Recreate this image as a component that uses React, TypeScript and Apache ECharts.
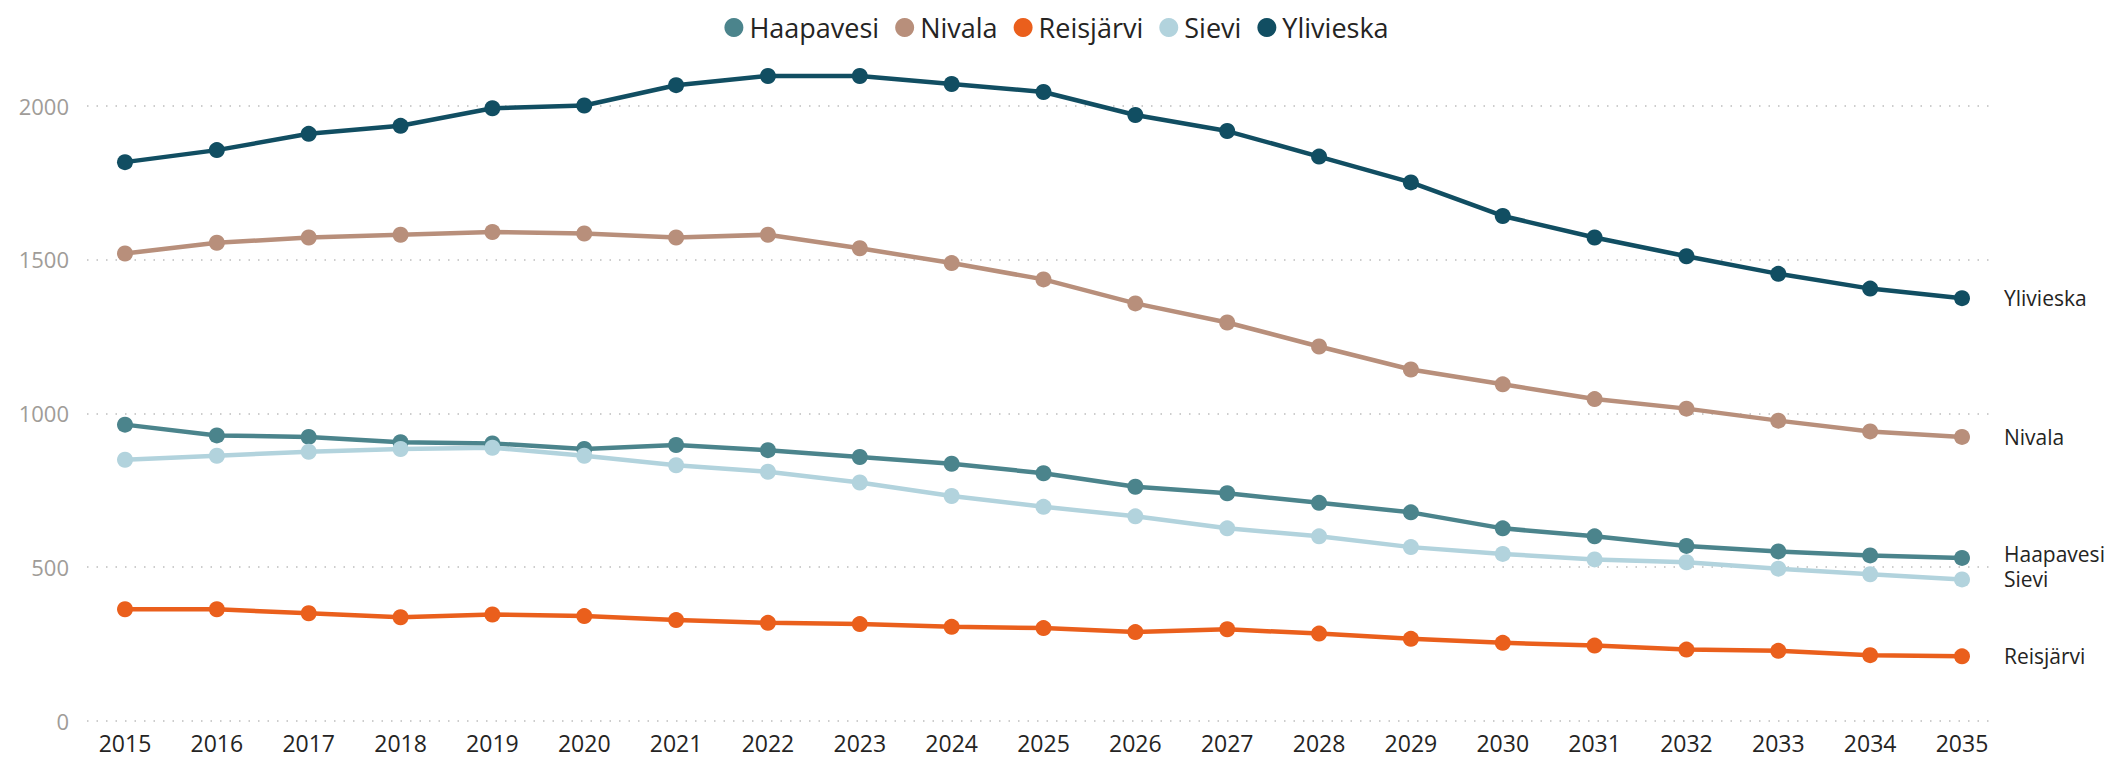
import React, { useEffect, useRef } from "react";
import * as echarts from "echarts";

const years = ["2015","2016","2017","2018","2019","2020","2021","2022","2023","2024","2025","2026","2027","2028","2029","2030","2031","2032","2033","2034","2035"];

const haapavesi = [963, 928, 923, 906, 902, 884, 897, 880, 858, 836, 805, 761, 740, 709, 678, 626, 600, 569, 551, 538, 530];
const nivala = [1519, 1554, 1571, 1580, 1589, 1584, 1571, 1580, 1536, 1488, 1435, 1357, 1295, 1217, 1142, 1094, 1046, 1015, 976, 941, 923];
const reisjarvi = [363, 363, 350, 337, 346, 341, 328, 319, 315, 306, 302, 289, 298, 284, 267, 254, 245, 232, 228, 214, 210];
const sievi = [849, 862, 875, 884, 888, 862, 831, 810, 775, 731, 696, 665, 626, 600, 565, 543, 525, 516, 495, 477, 460];
const ylivieska = [1816, 1855, 1908, 1934, 1991, 2000, 2066, 2096, 2096, 2070, 2044, 1969, 1917, 1834, 1750, 1641, 1571, 1510, 1453, 1405, 1374];

const seriesNames = ["Haapavesi", "Nivala", "Reisjärvi", "Sievi", "Ylivieska"];
const seriesValues = [haapavesi, nivala, reisjarvi, sievi, ylivieska];
const seriesColors = ["#4B848C", "#B88F7B", "#EA5F1C", "#B2D3DD", "#114E62"];
const labelOffsets = [[0, -4], [0, 0], [0, 0], [0, 0], [0, 0]];

const yTicks = { min: 0, max: 2000, interval: 500 };

const FONT = "'Open Sans', 'Noto Sans', sans-serif";

export default function App() {
  const ref = useRef<HTMLDivElement>(null);
  useEffect(() => {
    if (!ref.current) return;
    const chart = echarts.init(ref.current, undefined, { renderer: "svg" });
    const gridTop = 105.5;
    const gridBottom = 36;
    chart.setOption({
      animation: false,
      backgroundColor: "#ffffff",
      legend: {
        show: true,
        top: 9,
        left: "center",
        icon: "circle",
        itemWidth: 19,
        itemHeight: 19,
        itemGap: 16,
        data: seriesNames,
        textStyle: { fontFamily: FONT, fontSize: 27, color: "#252423", padding: [0, 0, 0, 1] },
      },
      grid: [
        { left: 87, right: 120, top: gridTop, bottom: gridBottom },
        { left: 125, right: 151, top: gridTop, bottom: gridBottom },
      ],
      xAxis: [
        { type: "value", gridIndex: 0, min: 0, max: 1, show: false },
        {
          type: "category",
          gridIndex: 1,
          data: years,
          boundaryGap: false,
          axisLine: { show: false },
          axisTick: { show: false },
          splitLine: { show: false },
          axisLabel: { fontFamily: FONT, fontSize: 23, color: "#252423", margin: 10, interval: 0 },
        },
      ],
      yAxis: [
        {
          type: "value",
          gridIndex: 0,
          min: yTicks.min,
          max: yTicks.max,
          interval: yTicks.interval,
          axisLine: { show: false },
          axisTick: { show: false },
          axisLabel: {
            fontFamily: FONT,
            fontSize: 22,
            color: "#A09C98",
            margin: 18,
            formatter: (v: number) => String(v),
          },
          splitLine: { show: true, lineStyle: { color: "#BDBDBD", width: 1.5, type: [1.5, 8] } },
        },
        {
          type: "value",
          gridIndex: 1,
          min: yTicks.min,
          max: yTicks.max,
          interval: yTicks.interval,
          show: false,
          splitLine: { show: false },
        },
      ],
      series: seriesNames.map((name, i) => ({
        name,
        type: "line",
        xAxisIndex: 1,
        yAxisIndex: 1,
        data: seriesValues[i],
        clip: false,
        symbol: "circle",
        symbolSize: 16,
        showSymbol: true,
        color: seriesColors[i],
        lineStyle: { width: 4.5, color: seriesColors[i] },
        itemStyle: { color: seriesColors[i] },
        endLabel: {
          show: true,
          formatter: "{a}",
          distance: 42,
          offset: labelOffsets[i],
          color: "#252423",
          fontFamily: FONT,
          fontSize: 21,
        },
      })),
    });
    return () => chart.dispose();
  }, []);
  return (
    <div
      ref={ref}
      style={{ position: "fixed", left: 0, top: 0, width: 2113, height: 757, background: "#fff" }}
    />
  );
}
